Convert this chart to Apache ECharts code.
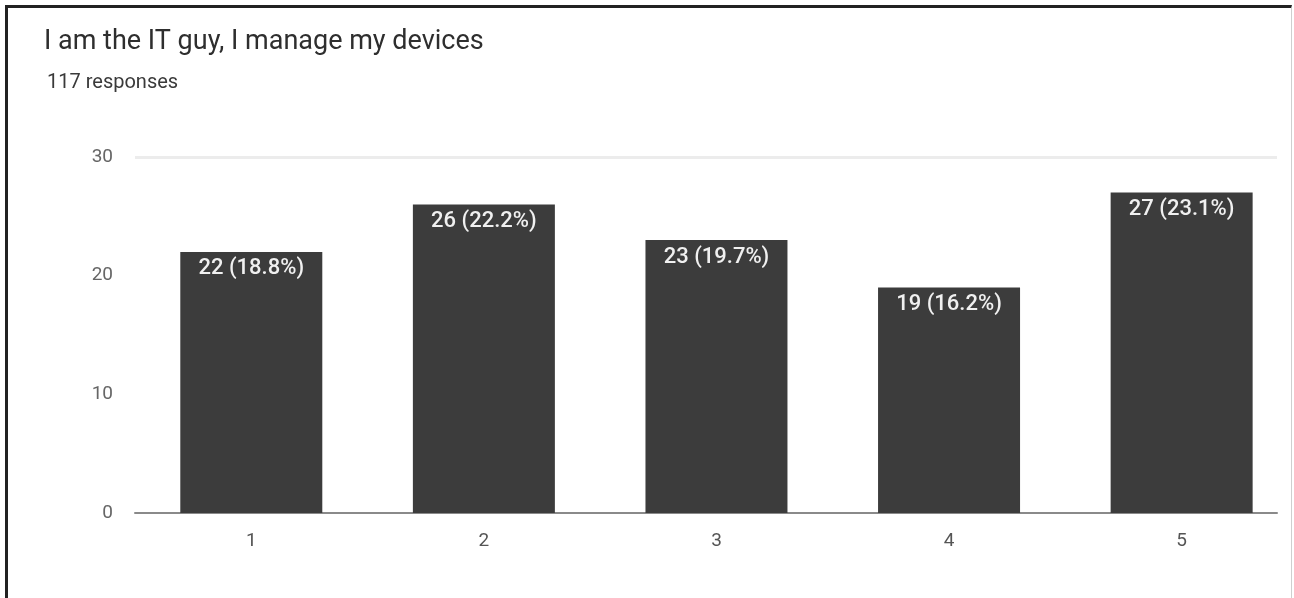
<!DOCTYPE html>
<html>
<head>
<meta charset="utf-8">
<script src="https://cdn.jsdelivr.net/npm/echarts@6/dist/echarts.min.js"></script>
<style>
  html, body { margin: 0; padding: 0; background: #fff; }
  #wrap { position: relative; width: 1294px; height: 598px; overflow: hidden; }
  #chart { position: absolute; left: 0; top: 0; width: 1294px; height: 598px; }
  #frame {
    position: absolute; left: 5px; top: 5px; width: 1283px; height: 600px;
    border-left: 3px solid #222; border-top: 3px solid #222; border-right: 1px solid #cfcfcf;
    pointer-events: none;
  }
</style>
</head>
<body>
<div id="wrap">
  <div id="chart"></div>
  <div id="frame"></div>
</div>
<script>
// Survey answers on a 1-5 scale
const categories = ['1', '2', '3', '4', '5'];
const counts = [22, 26, 23, 19, 27];
const totalResponses = 117;
const yTicks = [0, 10, 20, 30];

const titleText = 'I am the IT guy, I manage my devices';
const subtitleText = totalResponses + ' responses';

const chart = echarts.init(document.getElementById('chart'), null, { renderer: 'canvas' });

const barData = counts.map((v, i) => [i + 1, v]);
const catPositions = categories.map((c, i) => i + 1);

chart.setOption({
  animation: false,
  backgroundColor: '#fff',
  title: [
    {
      text: titleText, left: 44, top: 29, padding: 0,
      textStyle: { fontFamily: 'Roboto', fontSize: 27, fontWeight: 'normal', color: '#2e2e2e' }
    },
    {
      text: subtitleText, left: 47, top: 73, padding: 0,
      textStyle: { fontFamily: 'Roboto', fontSize: 20, fontWeight: 'normal', color: '#3a3a3a' }
    }
  ],
  grid: { left: 135, right: 17, top: 157, bottom: 85 },
  xAxis: {
    type: 'value',
    min: 0.5,
    max: categories.length + 0.41,
    splitLine: { show: false },
    axisLine: { show: true, onZero: false, lineStyle: { color: '#8a8a8a', width: 2 } },
    axisTick: { show: false },
    axisLabel: {
      customValues: catPositions,
      formatter: v => categories[v - 1] || '',
      color: '#555', fontFamily: 'Roboto', fontSize: 19, margin: 19
    }
  },
  yAxis: {
    type: 'value',
    min: yTicks[0],
    max: yTicks[yTicks.length - 1],
    interval: 10,
    axisLine: { show: false },
    axisTick: { show: false },
    splitLine: {
      show: true,
      lineStyle: { color: ['rgba(0,0,0,0)', 'rgba(0,0,0,0)', 'rgba(0,0,0,0)', '#ececec'], width: 3 }
    },
    axisLabel: { color: '#666', fontFamily: 'Roboto', fontSize: 19, margin: 22 }
  },
  series: [{
    type: 'bar',
    data: barData,
    barWidth: 142,
    itemStyle: { color: '#3c3c3c' },
    label: {
      show: true,
      position: 'insideTop',
      distance: 6,
      color: '#f0f0f0',
      fontFamily: 'Roboto',
      fontSize: 22,
      fontWeight: 500,
      formatter: p => {
        const v = p.value[1];
        return v + ' (' + (v / totalResponses * 100).toFixed(1) + '%)';
      }
    }
  }]
});
</script>
</body>
</html>
